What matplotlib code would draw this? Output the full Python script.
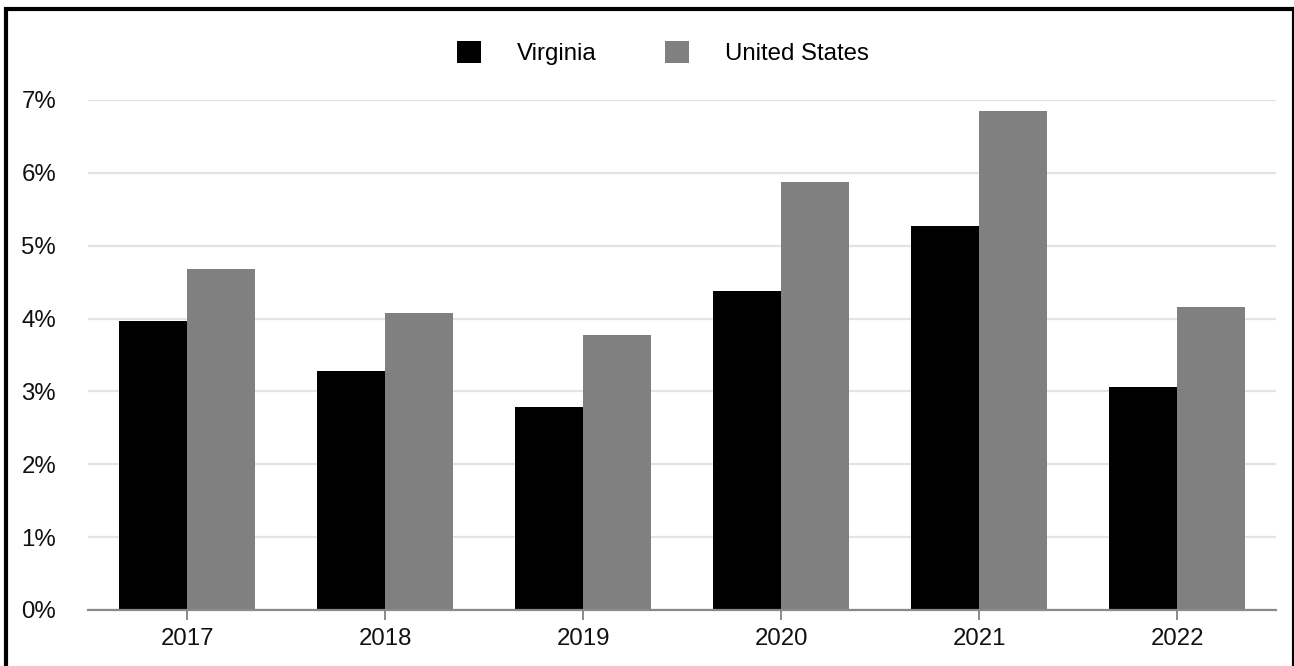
import matplotlib
matplotlib.use('Agg')
import matplotlib.pyplot as plt
import numpy as np
from matplotlib.patches import Rectangle

years = ['2017', '2018', '2019', '2020', '2021', '2022']
virginia = [3.96, 3.28, 2.78, 4.38, 5.27, 3.06]
united_states = [4.68, 4.07, 3.77, 5.87, 6.85, 4.16]

plt.rcParams['font.family'] = ['Liberation Sans', 'DejaVu Sans']

W, H = 1294, 666
fig = plt.figure(figsize=(W / 100, H / 100), dpi=100)
ax = fig.add_axes([88 / W, 56 / H, (1276 - 88) / W, 510 / H])

x = np.arange(len(years))
bw = 68 / 198
ax.bar(x - bw / 2, virginia, bw, color='#000000', label='Virginia', zorder=3)
ax.bar(x + bw / 2, united_states, bw, color='#808080', label='United States', zorder=3)

ax.set_xlim(-0.5, len(years) - 0.5)
ax.set_ylim(0, 7)
ax.set_yticks(range(0, 8))
ax.set_yticklabels(['%d%%' % v for v in range(0, 8)])
ax.set_xticks(x)
ax.set_xticklabels(years)

ax.grid(axis='y', color='#e3e3e3', linewidth=1.6, zorder=0)
for s in ['top', 'right', 'left']:
    ax.spines[s].set_visible(False)
ax.spines['bottom'].set_color('#8a8a8a')
ax.spines['bottom'].set_linewidth(1.6)
ax.spines['bottom'].set_zorder(4)

fs = 17.3
ax.tick_params(axis='y', length=0, pad=23, labelsize=fs, labelcolor='#111111')
ax.tick_params(axis='x', length=7.2, width=1.4, color='#8a8a8a', pad=6,
               labelsize=fs, labelcolor='#111111')

leg = fig.legend(loc='center', bbox_to_anchor=(663 / W, 1 - 53 / H), ncol=2,
                 frameon=False, fontsize=fs, handlelength=1.0, handleheight=1.0,
                 handletextpad=1.5, columnspacing=2.87)

# black frame around the figure
fig.patches.append(Rectangle((6 / W, -0.01), (1294 - 6) / W, 1 - 9 / H + 0.01,
                             transform=fig.transFigure, fill=False,
                             edgecolor='black', linewidth=3))

fig.savefig('out.png', dpi=100)
